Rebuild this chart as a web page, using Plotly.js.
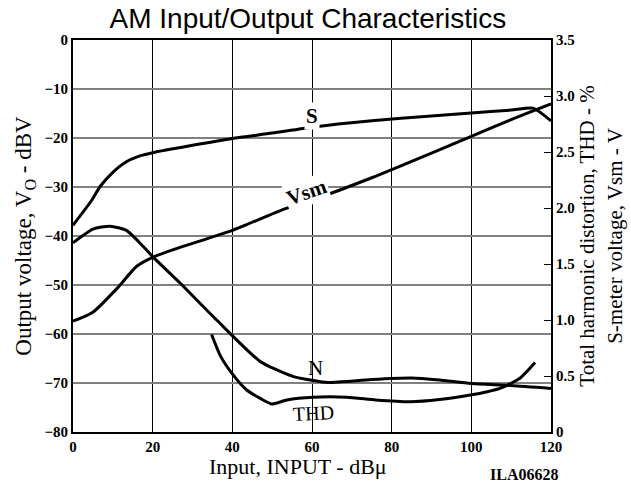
<!DOCTYPE html>
<html>
<head>
<meta charset="utf-8">
<script src="https://cdn.plot.ly/plotly-3.0.1.min.js"></script>
<style>
html,body{margin:0;padding:0;background:#fff;}
#chart{width:631px;height:486px;}
</style>
</head>
<body>
<div id="chart"></div>
<script>
// S curve: output voltage (dBV, left axis)
const sInput = [0, 4.7, 6.8, 10, 13.5, 17, 20, 30, 40, 50, 60, 75, 90, 100, 110, 115.5, 120];
const sOutput = [-37.8, -32.7, -29.9, -27, -24.8, -23.6, -23, -21.5, -20.1, -19.0, -17.8, -16.5, -15.5, -14.9, -14.3, -13.9, -16.5];

// N curve: noise output (dBV, left axis)
const nInput = [0, 5, 9.3, 13.5, 17.7, 20, 27, 36, 47, 55, 60.3, 64, 75, 85, 92, 100, 110, 120];
const nOutput = [-41.4, -38.6, -38, -38.9, -42.2, -44.2, -49.7, -57.1, -65.6, -68.6, -69.5, -69.9, -69.3, -69.0, -69.4, -70.1, -70.5, -71.1];

// Vsm curve: S-meter voltage (V, right axis)
const vsmInput = [0, 5, 11, 16, 20, 27, 40, 53, 60, 75, 90, 100, 110, 120];
const vsmVolt = [0.99, 1.07, 1.28, 1.48, 1.56, 1.65, 1.80, 1.99, 2.07, 2.27, 2.49, 2.64, 2.79, 2.93];

// THD curve: total harmonic distortion (%, right axis)
const thdInput = [34.8, 37, 40.2, 43.6, 47, 49.9, 53.7, 60.3, 68.7, 76, 84.6, 92, 99.7, 104, 107.2, 112.2, 116];
const thdPct = [0.87, 0.68, 0.51, 0.375, 0.30, 0.25, 0.286, 0.31, 0.31, 0.286, 0.27, 0.29, 0.33, 0.36, 0.39, 0.48, 0.62];

// Tick labels
const xTicks = [0, 20, 40, 60, 80, 100, 120];
const yTicks = [0, -10, -20, -30, -40, -50, -60, -70, -80];
const y2Ticks = [0, 0.5, 1.0, 1.5, 2.0, 2.5, 3.0, 3.5];
const y2TickText = ['0', '0.5', '1.0', '1.5', '2.0', '2.5', '3.0', '3.5'];

const lineStyle = {color: '#000', width: 3, shape: 'spline', smoothing: 0.6};
const traces = [
  {x: sInput, y: sOutput, mode: 'lines', line: lineStyle, yaxis: 'y', name: 'S', hoverinfo: 'skip'},
  {x: nInput, y: nOutput, mode: 'lines', line: lineStyle, yaxis: 'y', name: 'N', hoverinfo: 'skip'},
  {x: vsmInput, y: vsmVolt, mode: 'lines', line: lineStyle, yaxis: 'y2', name: 'Vsm', hoverinfo: 'skip'},
  {x: thdInput, y: thdPct, mode: 'lines', line: lineStyle, yaxis: 'y2', name: 'THD', hoverinfo: 'skip'}
];

const serif = 'Liberation Serif';
const tickFont = {family: serif, size: 15, color: '#000', weight: 700};
const plotW = 631 - 73 - 80, plotH = 486 - 40 - 54;

const layout = {
  width: 631, height: 486,
  margin: {l: 73, r: 80, t: 40, b: 54},
  paper_bgcolor: '#fff', plot_bgcolor: '#fff',
  showlegend: false,
  title: {text: 'AM Input/Output Characteristics', x: 0.488, xanchor: 'center', y: 0.962, yanchor: 'middle',
          font: {family: 'Liberation Sans', size: 28, color: '#000'}},
  xaxis: {
    range: [0, 120], tickvals: xTicks, ticks: '', showline: true, mirror: true,
    linecolor: '#000', linewidth: 2, showgrid: true, gridcolor: '#000', gridwidth: 1,
    zeroline: false, tickfont: tickFont
  },
  yaxis: {
    range: [-80, 0], tickvals: yTicks, ticks: '', showline: true, linecolor: '#000', linewidth: 2,
    showgrid: true, gridcolor: '#808080', gridwidth: 1.5, zeroline: false, tickfont: tickFont,
    title: {text: 'Output voltage, V<sub>O</sub> - dBV', standoff: 6, font: {family: serif, size: 23, color: '#000'}}
  },
  yaxis2: {
    range: [0, 3.5], overlaying: 'y', side: 'right', tickvals: y2Ticks, ticktext: y2TickText,
    ticks: 'inside', ticklen: 7, tickwidth: 1, tickcolor: '#000', showline: true, linecolor: '#000', linewidth: 2,
    showgrid: false, zeroline: false, tickfont: tickFont,
    title: {text: 'Total harmonic distortion, THD - %<br>S-meter voltage, Vsm - V', standoff: 6,
            font: {family: serif, size: 21, color: '#000'}}
  },
  annotations: [
    {x: 60, y: -15.6, xref: 'x', yref: 'y', text: 'S', showarrow: false, bgcolor: '#fff',
     font: {family: serif, size: 21, color: '#000', weight: 700}},
    {x: 58.7, y: -31, xref: 'x', yref: 'y', text: 'Vsm', showarrow: false, textangle: -19, bgcolor: '#fff',
     font: {family: serif, size: 21, color: '#000', weight: 700}},
    {x: 61, y: -67, xref: 'x', yref: 'y', text: 'N', showarrow: false,
     font: {family: serif, size: 21, color: '#000'}},
    {x: 60.3, y: -76.2, xref: 'x', yref: 'y', text: 'THD', showarrow: false, textangle: -3,
     font: {family: serif, size: 20, color: '#000'}},
    // x-axis title
    {x: (298 - 73) / plotW, y: -(466 - 432) / plotH, xref: 'paper', yref: 'paper',
     xanchor: 'center', yanchor: 'middle', text: 'Input, INPUT - dBμ', showarrow: false,
     font: {family: serif, size: 22, color: '#000'}},
    {x: (524 - 73) / plotW, y: -(474 - 432) / plotH, xref: 'paper', yref: 'paper',
     xanchor: 'center', yanchor: 'middle', text: 'ILA06628', showarrow: false,
     font: {family: serif, size: 16, color: '#000', weight: 700}}
  ]
};

Plotly.newPlot('chart', traces, layout, {staticPlot: true, displayModeBar: false});
</script>
</body>
</html>
